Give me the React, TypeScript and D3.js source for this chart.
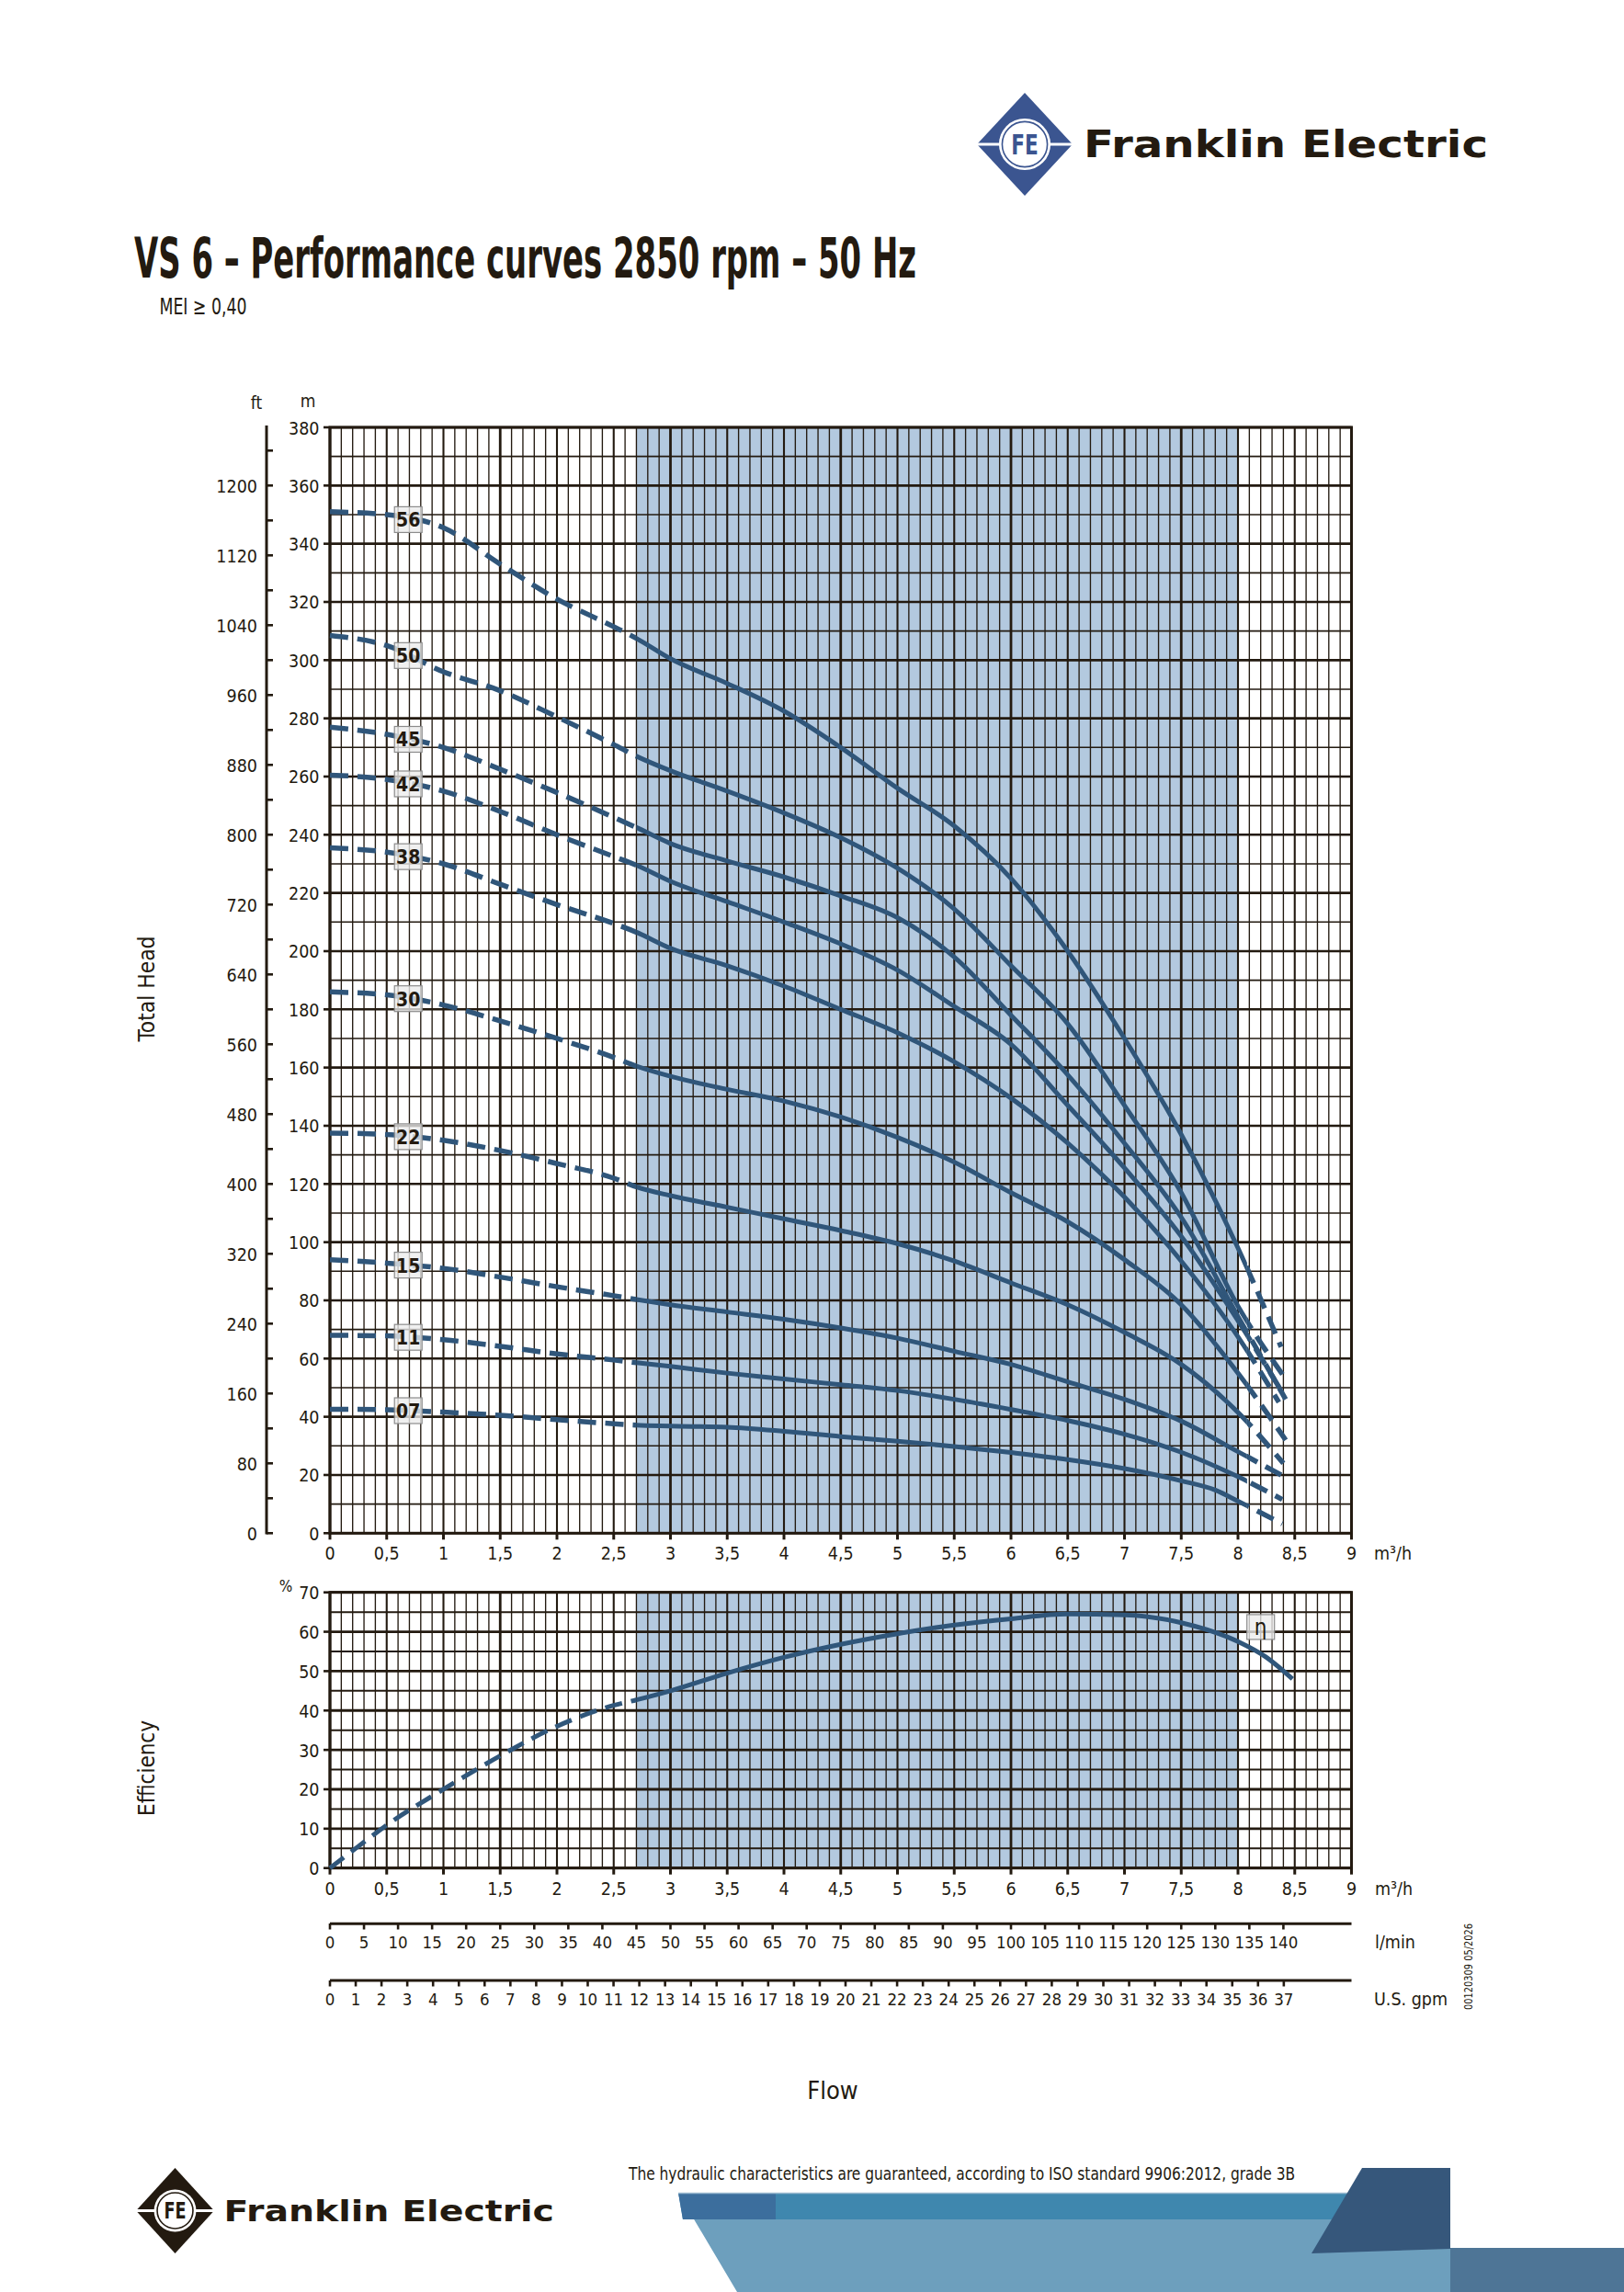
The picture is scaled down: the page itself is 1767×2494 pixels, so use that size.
import React from "react";
import * as d3 from "d3";

// ---------- DATA ----------
const stageLabels = ["56", "50", "45", "42", "38", "30", "22", "15", "11", "07"];

const head56 = [[0,351],[0.5,350],[1,345.5],[1.5,333],[2,321],[2.5,311.5],[2.7,307.5],[3,300.5],[3.5,292],[4,282.5],[4.5,270],[5,256],[5.5,243],[6,225],[6.5,200],[7,170],[7.5,137],[8,98],[8.38,64]];
const head50 = [[0,308.5],[0.5,305],[1,296],[1.5,289.5],[2,280.5],[2.5,271],[2.7,267],[3,262],[3.5,255],[4,247.5],[4.5,239],[5,228.5],[5.5,214.5],[6,195],[6.5,175],[7,147],[7.5,117],[8,78],[8.42,53]];
const head45 = [[0,277],[0.5,274.5],[1,270],[1.5,262.5],[2,254.5],[2.5,246],[2.7,242.5],[3,237],[3.5,231],[4,225.5],[4.5,219],[5,211.5],[5.5,198],[6,178],[6.5,157.5],[7,134],[7.5,108.5],[8,74.5],[8.42,46]];
const head42 = [[0,260.5],[0.5,259],[1,255],[1.5,248],[2,240],[2.5,232.5],[2.7,229.5],[3,224],[3.5,217],[4,210],[4.5,202.5],[5,193.5],[5.5,181],[6,168],[6.5,147],[7,125.5],[7.5,102],[8,73],[8.38,49]];
const head38 = [[0,235.5],[0.5,234],[1,230],[1.5,223],[2,216],[2.5,209.5],[2.7,206.5],[3,201],[3.5,195],[4,188],[4.5,180],[5,172],[5.5,162],[6,149.5],[6.5,134],[7,115.5],[7.5,93.5],[8,67.5],[8.36,45]];
const head30 = [[0,186],[0.5,185],[1,181.5],[1.5,176],[2,170],[2.5,163.5],[2.7,160.5],[3,157],[3.5,152.5],[4,148.5],[4.5,143],[5,136],[5.5,127.5],[6,117],[6.5,107],[7,94],[7.5,78.5],[8,55],[8.42,32]];
const head22 = [[0,137.5],[0.5,137],[1,135],[1.5,131.5],[2,127],[2.5,122],[2.7,119],[3,116],[3.5,112],[4,108],[4.5,104],[5,99.5],[5.5,93.5],[6,86],[6.5,78.5],[7,69],[7.5,58],[8,41.5],[8.4,24]];
const head15 = [[0,94],[0.5,92.8],[1,91],[1.5,88],[2,84.7],[2.5,81.6],[2.7,80.3],[3,78.5],[3.5,76],[4,73.5],[4.5,70.5],[5,67],[5.5,62.5],[6,58],[6.5,52],[7,46],[7.5,38.5],[8,28],[8.38,20]];
const head11 = [[0,68],[0.5,67.8],[1,66.5],[1.5,64.2],[2,61.6],[2.5,59.5],[2.7,58.6],[3,57.3],[3.5,55],[4,53],[4.5,51],[5,49],[5.5,46],[6,42.5],[6.5,38.7],[7,34],[7.5,27.8],[8,19.4],[8.39,11.6]];
const head07 = [[0,42.6],[0.5,42.4],[1,41.6],[1.5,40.5],[2,39],[2.5,37.6],[2.7,37.1],[3,36.8],[3.5,36.4],[4,35],[4.5,33.2],[5,31.6],[5.5,29.8],[6,27.7],[6.5,25.3],[7,22.2],[7.5,18],[7.8,14.8],[8,11],[8.39,3.2]];
const headCurves = [head56, head50, head45, head42, head38, head30, head22, head15, head11, head07];

const efficiency = [[0,0],[0.25,5.5],[0.5,10.9],[1,20],[1.5,28.5],[2,36],[2.5,41.3],[2.7,42.7],[3,45],[3.5,49.5],[4,53.5],[4.5,56.8],[5,59.5],[5.5,61.7],[6,63.3],[6.5,64.5],[7,64.3],[7.5,62.3],[8,57.5],[8.25,53.5],[8.48,48]];

const flowTicks = d3.range(0, 19).map((i) => i * 0.5); // m3/h
const headTicks = d3.range(0, 20).map((i) => i * 20); // m
const ftTicks = d3.range(0, 32).map((i) => i * 40); // ft
const effTicks = d3.range(0, 8).map((i) => i * 10); // %
const lminTicks = d3.range(0, 29).map((i) => i * 5); // l/min
const gpmTicks = d3.range(0, 38); // US gpm

const solidFrom = 2.7;
const solidTo = 8.08;
const labelQ = 0.69;
const etaLabel = [8.2, 61.2];

// ---------- STYLE ----------
const INK = "#231a10";
const CURVE = "#30567a";
const SHADE = "#b3c9df";
const COND = "'Liberation Sans Narrow','DejaVu Sans Condensed','Roboto Condensed',Roboto,'Noto Sans',sans-serif";
const WIDE = "'DejaVu Sans',Verdana,sans-serif";

const fmt = (v: number) => String(v).replace(".", ",");

function interp(data: number[][], q: number) {
  for (let i = 0; i < data.length - 1; i++) {
    const [a, ya] = data[i];
    const [b, yb] = data[i + 1];
    if (q >= a && q <= b) return ya + ((yb - ya) * (q - a)) / (b - a);
  }
  return data[data.length - 1][1];
}

function Logo({ cx, cy, hw, hh, color, tx, ty, fs, tl }: any) {
  const r = hw * 0.54;
  return (
    <g>
      <polygon points={`${cx},${cy - hh} ${cx + hw},${cy} ${cx},${cy + hh} ${cx - hw},${cy}`} fill={color} />
      <rect x={cx - hw} y={cy - 1.5} width={hw * 2} height={3} fill="#fff" />
      <circle cx={cx} cy={cy} r={r} fill="#fff" />
      <circle cx={cx} cy={cy} r={r - 3.5} fill="none" stroke={color} strokeWidth={1.6} />
      <text x={cx} y={cy + r * 0.38} textAnchor="middle" fontFamily={COND} fontWeight={700}
        fontSize={r * 1.1} textLength={r * 1.05} lengthAdjust="spacingAndGlyphs" fill={color}>FE</text>
      <text x={tx} y={ty} fontFamily={WIDE} fontWeight={700} fontSize={fs} textLength={tl}
        lengthAdjust="spacingAndGlyphs" fill={INK}>Franklin Electric</text>
    </g>
  );
}

export default function App() {
  const x = d3.scaleLinear().domain([0, 9]).range([359, 1470.5]);
  const yH = d3.scaleLinear().domain([0, 380]).range([1668.3, 465]);
  const yFt = d3.scaleLinear().domain([0, 1200]).range([1668.3, 528.3]);
  const yE = d3.scaleLinear().domain([0, 70]).range([2032.7, 1732.7]);
  const xL = d3.scaleLinear().domain([0, 150]).range([359, 1470.5]);
  const xG = d3.scaleLinear().domain([0, 9 * 4.402868]).range([359, 1470.5]);

  const lineH = d3.line<number[]>().x((d) => x(d[0])).y((d) => yH(d[1])).curve(d3.curveMonotoneX);
  const lineE = d3.line<number[]>().x((d) => x(d[0])).y((d) => yE(d[1])).curve(d3.curveMonotoneX);

  const vLines = d3.range(0, 91).map((i) => i);
  const vw = (i: number) => (i % 15 === 0 ? 2.8 : i % 5 === 0 ? 2.1 : 1.35);
  const hMain = d3.range(0, 39).map((i) => i * 10);
  const hEff = d3.range(0, 15).map((i) => i * 5);

  const [mx0, mx1] = x.range();
  const mTop = yH(380), mBot = yH(0);
  const eTop = yE(70), eBot = yE(0);

  return (
    <svg width={1767} height={2494} viewBox="0 0 1767 2494"
      style={{ position: "absolute", left: 0, top: 0, background: "#fff" }}>
      <defs>
        <clipPath id="solidMain">
          <rect x={x(solidFrom)} y={mTop - 20} width={x(solidTo) - x(solidFrom)} height={mBot - mTop + 40} />
        </clipPath>
        <clipPath id="dashMain">
          <rect x={mx0 - 10} y={mTop - 20} width={x(solidFrom) - mx0 + 10} height={mBot - mTop + 40} />
          <rect x={x(solidTo)} y={mTop - 20} width={mx1 - x(solidTo) + 20} height={mBot - mTop + 40} />
        </clipPath>
        <clipPath id="solidEff">
          <rect x={x(solidFrom)} y={eTop - 20} width={mx1 - x(solidFrom) + 20} height={eBot - eTop + 40} />
        </clipPath>
        <clipPath id="dashEff">
          <rect x={mx0 - 10} y={eTop - 20} width={x(solidFrom) - mx0 + 10} height={eBot - eTop + 40} />
        </clipPath>
      </defs>

      {/* Header */}
      <Logo cx={1115} cy={157} hw={52} hh={56} color="#3b5590" tx={1179} ty={170.5} fs={40} tl={440} />
      <text x={146} y={302} fontFamily={COND} fontWeight={700} fontSize={61} textLength={851}
        lengthAdjust="spacingAndGlyphs" fill={INK}>VS 6 – Performance curves 2850 rpm – 50 Hz</text>
      <text x={173.5} y={342} fontFamily={COND} fontSize={25} textLength={95} lengthAdjust="spacingAndGlyphs" fill={INK}>MEI ≥ 0,40</text>

      {/* ---------- MAIN HEAD CHART ---------- */}
      <rect x={x(solidFrom)} y={mTop} width={x(8) - x(solidFrom)} height={mBot - mTop} fill={SHADE} />
      {vLines.map((i) => (
        <line key={"mv" + i} x1={x(i / 10)} x2={x(i / 10)} y1={mTop} y2={mBot} stroke={INK} strokeWidth={vw(i)} />
      ))}
      {hMain.map((v) => (
        <line key={"mh" + v} x1={mx0} x2={mx1} y1={yH(v)} y2={yH(v)} stroke={INK} strokeWidth={v % 20 === 0 ? 2.6 : 1.6} />
      ))}
      <rect x={mx0} y={mTop} width={mx1 - mx0} height={mBot - mTop} fill="none" stroke={INK} strokeWidth={3} />

      {/* head ticks & labels */}
      {headTicks.map((v) => (
        <g key={"ht" + v}>
          <line x1={352} x2={mx0} y1={yH(v)} y2={yH(v)} stroke={INK} strokeWidth={2.6} />
          <text x={347.5} y={yH(v) + 1} textAnchor="end" dominantBaseline="central" fontFamily={COND} fontSize={19.5} fill={INK}>{v}</text>
        </g>
      ))}
      <text x={335} y={443} textAnchor="middle" fontFamily={COND} fontSize={19} fill={INK}>m</text>

      {/* ft axis */}
      <line x1={290} x2={290} y1={463} y2={yFt(0) + 1.3} stroke={INK} strokeWidth={3} />
      {ftTicks.map((v) => (
        <g key={"ft" + v}>
          <line x1={290} x2={297} y1={yFt(v)} y2={yFt(v)} stroke={INK} strokeWidth={2.6} />
          {v % 80 === 0 && (
            <text x={280} y={yFt(v) + 1} textAnchor="end" dominantBaseline="central" fontFamily={COND} fontSize={19.5} fill={INK}>{v}</text>
          )}
        </g>
      ))}
      <text x={279} y={445} textAnchor="middle" fontFamily={COND} fontSize={19} fill={INK}>ft</text>

      {/* flow ticks main */}
      {flowTicks.map((v) => (
        <g key={"fx" + v}>
          <line x1={x(v)} x2={x(v)} y1={mBot} y2={mBot + 7} stroke={INK} strokeWidth={3} />
          <text x={x(v)} y={1697} textAnchor="middle" fontFamily={COND} fontSize={19.5} fill={INK}>{fmt(v)}</text>
        </g>
      ))}
      <text x={1495} y={1697} fontFamily={COND} fontSize={19.5} fill={INK}>m³/h</text>

      {/* head curves */}
      {headCurves.map((c, i) => (
        <g key={"hc" + i}>
          <path d={lineH(c) || ""} fill="none" stroke={CURVE} strokeWidth={5} clipPath="url(#solidMain)" />
          <path d={lineH(c) || ""} fill="none" stroke={CURVE} strokeWidth={5.5} strokeDasharray="20 10" clipPath="url(#dashMain)" />
        </g>
      ))}
      {headCurves.map((c, i) => {
        const cx = x(labelQ);
        const cy = yH(interp(c, labelQ));
        return (
          <g key={"lb" + i}>
            <rect x={cx - 15} y={cy - 14} width={30} height={28} fill="rgba(236,236,236,0.78)" stroke="#8c8c8c" strokeWidth={1.2} />
            <text x={cx} y={cy + 1} textAnchor="middle" dominantBaseline="central" fontFamily={COND} fontWeight={700} fontSize={21} fill={INK}>{stageLabels[i]}</text>
          </g>
        );
      })}

      <text transform="translate(168,1076) rotate(-90)" textAnchor="middle" fontFamily={COND} fontSize={24} textLength={115} lengthAdjust="spacingAndGlyphs" fill={INK}>Total Head</text>

      {/* ---------- EFFICIENCY CHART ---------- */}
      <rect x={x(solidFrom)} y={eTop} width={x(8) - x(solidFrom)} height={eBot - eTop} fill={SHADE} />
      {vLines.map((i) => (
        <line key={"ev" + i} x1={x(i / 10)} x2={x(i / 10)} y1={eTop} y2={eBot} stroke={INK} strokeWidth={vw(i)} />
      ))}
      {hEff.map((v) => (
        <line key={"eh" + v} x1={mx0} x2={mx1} y1={yE(v)} y2={yE(v)} stroke={INK} strokeWidth={v % 10 === 0 ? 2.8 : 2} />
      ))}
      <rect x={mx0} y={eTop} width={mx1 - mx0} height={eBot - eTop} fill="none" stroke={INK} strokeWidth={3} />
      {effTicks.map((v) => (
        <g key={"et" + v}>
          <line x1={352} x2={mx0} y1={yE(v)} y2={yE(v)} stroke={INK} strokeWidth={2.6} />
          <text x={347.5} y={yE(v) + 1} textAnchor="end" dominantBaseline="central" fontFamily={COND} fontSize={19.5} fill={INK}>{v}</text>
        </g>
      ))}
      <text x={311} y={1732} textAnchor="middle" fontFamily={COND} fontSize={17} fill={INK}>%</text>
      {flowTicks.map((v) => (
        <g key={"ex" + v}>
          <line x1={x(v)} x2={x(v)} y1={eBot} y2={eBot + 7} stroke={INK} strokeWidth={3} />
          <text x={x(v)} y={2062} textAnchor="middle" fontFamily={COND} fontSize={19.5} fill={INK}>{fmt(v)}</text>
        </g>
      ))}
      <text x={1496} y={2062} fontFamily={COND} fontSize={19.5} fill={INK}>m³/h</text>

      <path d={lineE(efficiency) || ""} fill="none" stroke={CURVE} strokeWidth={5} clipPath="url(#solidEff)" />
      <path d={lineE(efficiency) || ""} fill="none" stroke={CURVE} strokeWidth={5} strokeDasharray="19 10" clipPath="url(#dashEff)" />
      <g>
        <rect x={x(etaLabel[0]) - 15} y={yE(etaLabel[1]) - 13.5} width={30} height={27} fill="rgba(236,236,236,0.78)" stroke="#8c8c8c" strokeWidth={1.2} />
        <text x={x(etaLabel[0])} y={yE(etaLabel[1]) + 1} textAnchor="middle" dominantBaseline="central" fontFamily={COND} fontSize={24} fill={INK}>η</text>
      </g>

      <text transform="translate(168,1924) rotate(-90)" textAnchor="middle" fontFamily={COND} fontSize={24} textLength={104} lengthAdjust="spacingAndGlyphs" fill={INK}>Efficiency</text>

      {/* l/min axis */}
      <line x1={mx0} x2={mx1} y1={2093.3} y2={2093.3} stroke={INK} strokeWidth={3} />
      {lminTicks.map((v) => (
        <g key={"lm" + v}>
          <line x1={xL(v)} x2={xL(v)} y1={2093} y2={2099.5} stroke={INK} strokeWidth={2.6} />
          <text x={xL(v)} y={2119.5} textAnchor="middle" fontFamily={COND} fontSize={18.5} fill={INK}>{v}</text>
        </g>
      ))}
      <text x={1496} y={2119.5} fontFamily={COND} fontSize={19.5} fill={INK}>l/min</text>

      {/* gpm axis */}
      <line x1={mx0} x2={mx1} y1={2155} y2={2155} stroke={INK} strokeWidth={3} />
      {gpmTicks.map((v) => (
        <g key={"gp" + v}>
          <line x1={xG(v)} x2={xG(v)} y1={2155} y2={2161.5} stroke={INK} strokeWidth={2.6} />
          <text x={xG(v)} y={2181.5} textAnchor="middle" fontFamily={COND} fontSize={18.5} fill={INK}>{v}</text>
        </g>
      ))}
      <text x={1495} y={2182} fontFamily={COND} fontSize={19.5} fill={INK}>U.S. gpm</text>

      <text transform="translate(1602,2140) rotate(-90)" textAnchor="middle" fontFamily={COND} fontSize={13} textLength={94} lengthAdjust="spacingAndGlyphs" fill={INK}>00120309 05/2026</text>

      <text x={906} y={2284} textAnchor="middle" fontFamily={COND} fontSize={27} fill={INK}>Flow</text>

      {/* ---------- FOOTER ---------- */}
      <polygon points="738,2386 1490,2386 1490,2446 1578,2446 1578,2494 802,2494" fill="#6d9fbd" />
      <polygon points="738,2386 1480,2386 1480,2415 743,2415" fill="#3f87ae" />
      <polygon points="738,2386 844,2386 844,2415 743,2415" fill="#3c6e9d" />
      <line x1={738} x2={1480} y1={2386.5} y2={2386.5} stroke="#9bbad0" strokeWidth={1.5} />
      <polygon points="1578,2446 1767,2446 1767,2494 1578,2494" fill="#4e7596" />
      <polygon points="1482,2359 1578,2359 1578,2447 1427,2452" fill="#36577b" />
      <text x={684} y={2372} fontFamily={COND} fontSize={20} textLength={725} lengthAdjust="spacingAndGlyphs" fill={INK}>The hydraulic characteristics are guaranteed, according to ISO standard 9906:2012, grade 3B</text>
      <Logo cx={190.5} cy={2405.5} hw={42.5} hh={46.5} color={INK} tx={243.5} ty={2417} fs={32} tl={359.5} />
    </svg>
  );
}
